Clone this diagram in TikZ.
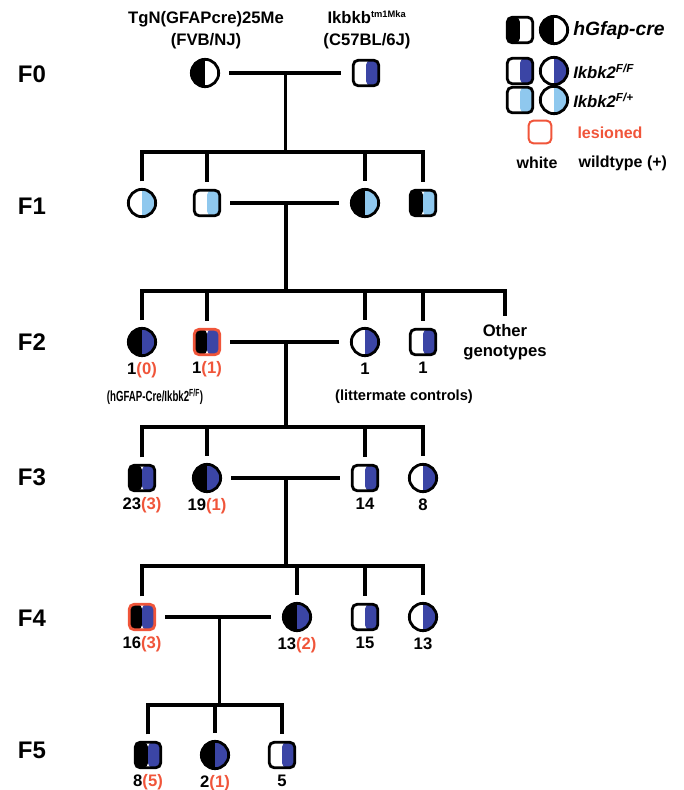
\documentclass[tikz,border=0pt]{standalone}
\usepackage{fontspec}
\setmainfont{Liberation Sans}
\usetikzlibrary{calc,positioning}
\definecolor{ikblue}{HTML}{3B45A5}
\definecolor{iklite}{HTML}{8FC8EE}
\definecolor{lesred}{HTML}{F0553A}
\tikzset{
  halves/.style 2 args={path picture={
      \fill[#1] (path picture bounding box.south west) rectangle (path picture bounding box.north);
      \fill[#2] (path picture bounding box.north) rectangle (path picture bounding box.south east);}},
  male/.style={rectangle,rounded corners=3.5pt,line width=2.1pt,minimum size=19pt,inner sep=0pt},
  female/.style={circle,line width=2.1pt,minimum size=20.5pt,inner sep=0pt},
  famline/.style={line width=2.6pt,line join=miter},
  genlab/.style={font=\fontsize{18}{20}\selectfont\bfseries},
  numlab/.style={font=\fontsize{12.5}{15}\selectfont\bfseries,inner sep=1pt,label distance=3pt},
  caplab/.style={font=\fontsize{11}{13}\selectfont\bfseries,inner sep=1pt},
  hdr/.style={font=\fontsize{12.5}{16.5}\selectfont\bfseries,align=center,inner sep=1pt},
  keytxt/.style={font=\fontsize{12.5}{14}\selectfont\bfseries\itshape,inner sep=1pt},
}
\begin{document}
\begin{tikzpicture}[x=0.75pt,y=-0.75pt]
  \useasboundingbox (0,0) rectangle (683,790);
  % generation labels
  \foreach \g/\y in {0/74,1/206,2/342,3/477,4/618,5/750}
    \node[genlab] (gen\g) at (32,\y) {F\g};
  % F0
  \node[hdr] (strA) at (206,30) {TgN(GFAPcre)25Me\\(FVB/NJ)};
  \node[hdr] (strB) at (367,30) {Ikbkb\textsuperscript{\fontsize{7}{8}\selectfont tm1Mka}\\(C57BL/6J)};
  \node[female,draw,halves={black}{white}] (F0a) at (205,73) {};
  \node[male,draw,halves={white}{ikblue}] (F0b) at (366,73) {};
  % F1
  \foreach \nm/\x/\shp/\lc/\rc in {F1a/142/female/white/iklite,F1b/207/male/white/iklite,
      F1c/365/female/black/iklite,F1d/423/male/black/iklite}
    \node[\shp,draw,halves={\lc}{\rc}] (\nm) at (\x,203) {};
  % F2
  \foreach \nm/\x/\shp/\lc/\rc/\bd/\lab in {F2a/142/female/black/ikblue/black/{1\textcolor{lesred}{(0)}},
      F2b/207/male/black/ikblue/lesred/{1\textcolor{lesred}{(1)}},
      F2c/365/female/white/ikblue/black/1,F2d/423/male/white/ikblue/black/1}
    \node[\shp,draw=\bd,halves={\lc}{\rc},label={[numlab]below:\lab}] (\nm) at (\x,342) {};
  \node[numlab,align=center] (F2e) at (505,342) {Other\\genotypes};
  \node[caplab] (capA) at (155,397) {\scalebox{0.66}[1]{(hGFAP-Cre/Ikbk2\textsuperscript{F/F})}};
  \node[caplab] (capB) at (404,397) {(littermate controls)};
  % F3
  \foreach \nm/\x/\shp/\lc/\rc/\lab in {F3a/142/male/black/ikblue/{23\textcolor{lesred}{(3)}},
      F3b/207/female/black/ikblue/{19\textcolor{lesred}{(1)}},
      F3c/365/male/white/ikblue/14,F3d/423/female/white/ikblue/8}
    \node[\shp,draw,halves={\lc}{\rc},label={[numlab]below:\lab}] (\nm) at (\x,478) {};
  % F4
  \foreach \nm/\x/\shp/\lc/\rc/\bd/\lab in {F4a/142/male/black/ikblue/lesred/{16\textcolor{lesred}{(3)}},
      F4b/297/female/black/ikblue/black/{13\textcolor{lesred}{(2)}},
      F4c/365/male/white/ikblue/black/15,F4d/423/female/white/ikblue/black/13}
    \node[\shp,draw=\bd,halves={\lc}{\rc},label={[numlab]below:\lab}] (\nm) at (\x,617) {};
  % F5
  \foreach \nm/\x/\shp/\lc/\rc/\lab in {F5a/148/male/black/ikblue/{8\textcolor{lesred}{(5)}},
      F5b/215/female/black/ikblue/{2\textcolor{lesred}{(1)}},F5c/282/male/white/ikblue/5}
    \node[\shp,draw,halves={\lc}{\rc},label={[numlab]below:\lab}] (\nm) at (\x,755) {};

  % matings and sibships
  \coordinate (s1) at (285,152);
  \coordinate (s2) at (285,291);
  \coordinate (s3) at (285,427);
  \coordinate (s4) at (285,566);
  \coordinate (s5) at (220,705);
  \foreach \pa/\pb/\k in {F0a/F0b/0,F1b/F1c/1,F2b/F2c/2,F3b/F3c/3,F4a/F4b/4} {
    \coordinate (m\k) at ($(\pa)!0.5!(\pb)$);
    \draw[famline,shorten <=7pt,shorten >=8pt] (\pa) -- (\pb);
  }
  \draw[famline] (m0) -- (m0 |- s1);
  \draw[famline] (m1) -- (m1 |- s2);
  \draw[famline] (m2) -- (m2 |- s3);
  \draw[famline] (m3) -- (m3 |- s4);
  \draw[famline] (m4) -- (m4 |- s5);
  \foreach \first/\last/\s in {F1a/F1d/s1,F2a/F2e/s2,F3a/F3d/s3,F4a/F4d/s4,F5a/F5c/s5}
    \draw[famline,shorten <=5pt,shorten >=5pt] (\first) -- (\first |- \s) -- (\last |- \s) -- (\last);
  \foreach \nm/\s in {F1b/s1,F1c/s1,F2b/s2,F2c/s2,F2d/s2,F3b/s3,F3c/s3,F4b/s4,F4c/s4,F5b/s5}
    \draw[famline,shorten >=5pt] (\nm |- \s) -- (\nm);

  % key
  \foreach \y/\lc/\rc/\txt [count=\i] in {30/black/white/{\fontsize{14.5}{16}\selectfont hGfap-cre},
      71/white/ikblue/{Ikbk2\textsuperscript{F/F}},100/white/iklite/{Ikbk2\textsuperscript{F/+}}} {
    \node[male,draw,halves={\lc}{\rc}] (ksq\i) at (520,\y) {};
    \node[female,draw,halves={\lc}{\rc}] (kci\i) at (554,\y) {};
    \node[keytxt,right=2pt of kci\i] (ktx\i) {\txt};
  }
  \node[male,draw=lesred,line width=1.5pt,minimum size=17pt] (kles) at (540,132) {};
  \node[caplab,font=\fontsize{12}{14}\selectfont\bfseries,text=lesred] (klestx) at (610,133) {lesioned};
  \node[caplab,font=\fontsize{12}{14}\selectfont\bfseries] (kwhite) at (537,163) {white};
  \node[caplab,font=\fontsize{12}{14}\selectfont\bfseries,anchor=west] (kwild) at (577,163) {wildtype (+)};
\end{tikzpicture}
\end{document}
